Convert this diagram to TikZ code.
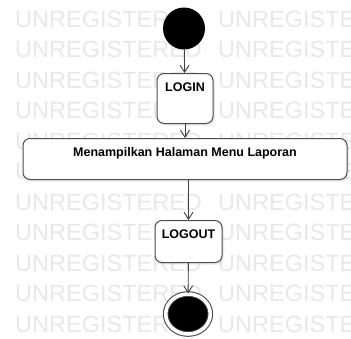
\documentclass[tikz,border=0pt]{standalone}
\usepackage{fontspec}
\setmainfont{Liberation Sans}
\usetikzlibrary{arrows.meta,shapes.geometric,shadows}

\tikzset{
  aktivitas/.style={draw=black!70, line width=1pt, fill=white, rounded corners=7pt,
    inner xsep=2pt, inner ysep=0pt, text height=18pt, font=\fontsize{12.5}{14}\selectfont\bfseries,
    drop shadow={opacity=0.15, shadow xshift=2pt, shadow yshift=-2pt}},
  awal/.style={circle, fill=black, minimum size=42pt, inner sep=0pt},
  akhir/.style={ellipse, draw=black!75, line width=1pt, double=white, double distance=3.6pt,
    fill=black, minimum width=44.6pt, minimum height=40pt, inner sep=0pt},
  alur/.style={draw=black!75, line width=0.9pt, -{Straight Barb[length=7pt,width=9pt]}},
  watermark/.style={text=black!9, font=\fontsize{23.5}{24}\selectfont, inner sep=0pt, anchor=base west}
}

\begin{document}
\begin{tikzpicture}[x=1pt,y=-1pt]
\useasboundingbox (0,0) rectangle (351,338);
\clip (0,0) rectangle (351,338);
\fill[white] (0,0) rectangle (351,338);

% watermark
\foreach \i in {0,...,10} {
  \node[watermark] at (15,27+30.5*\i) {UNREGISTERED};
  \node[watermark] at (218,27+30.5*\i) {UNREGISTERED};
}

\node[awal] (mulai) at (184,28.5) {};
\node[aktivitas, anchor=north, minimum width=56pt, text depth=32pt] (login) at (185,73) {LOGIN};
\node[aktivitas, anchor=north, minimum width=324pt, text depth=23pt] (menu) at (185,138) {Menampilkan Halaman Menu Laporan};
\node[aktivitas, anchor=north, minimum width=67pt, text depth=24pt] (logout) at (188.5,220) {LOGOUT};
\node[akhir] (selesai) at (188,314) {};

\draw[alur] (mulai) -- (login);
\draw[alur] (login) -- (menu);
\draw[alur] (menu.south -| logout.north) -- (logout);
\draw[alur] (logout) -- (selesai);

\end{tikzpicture}
\end{document}
